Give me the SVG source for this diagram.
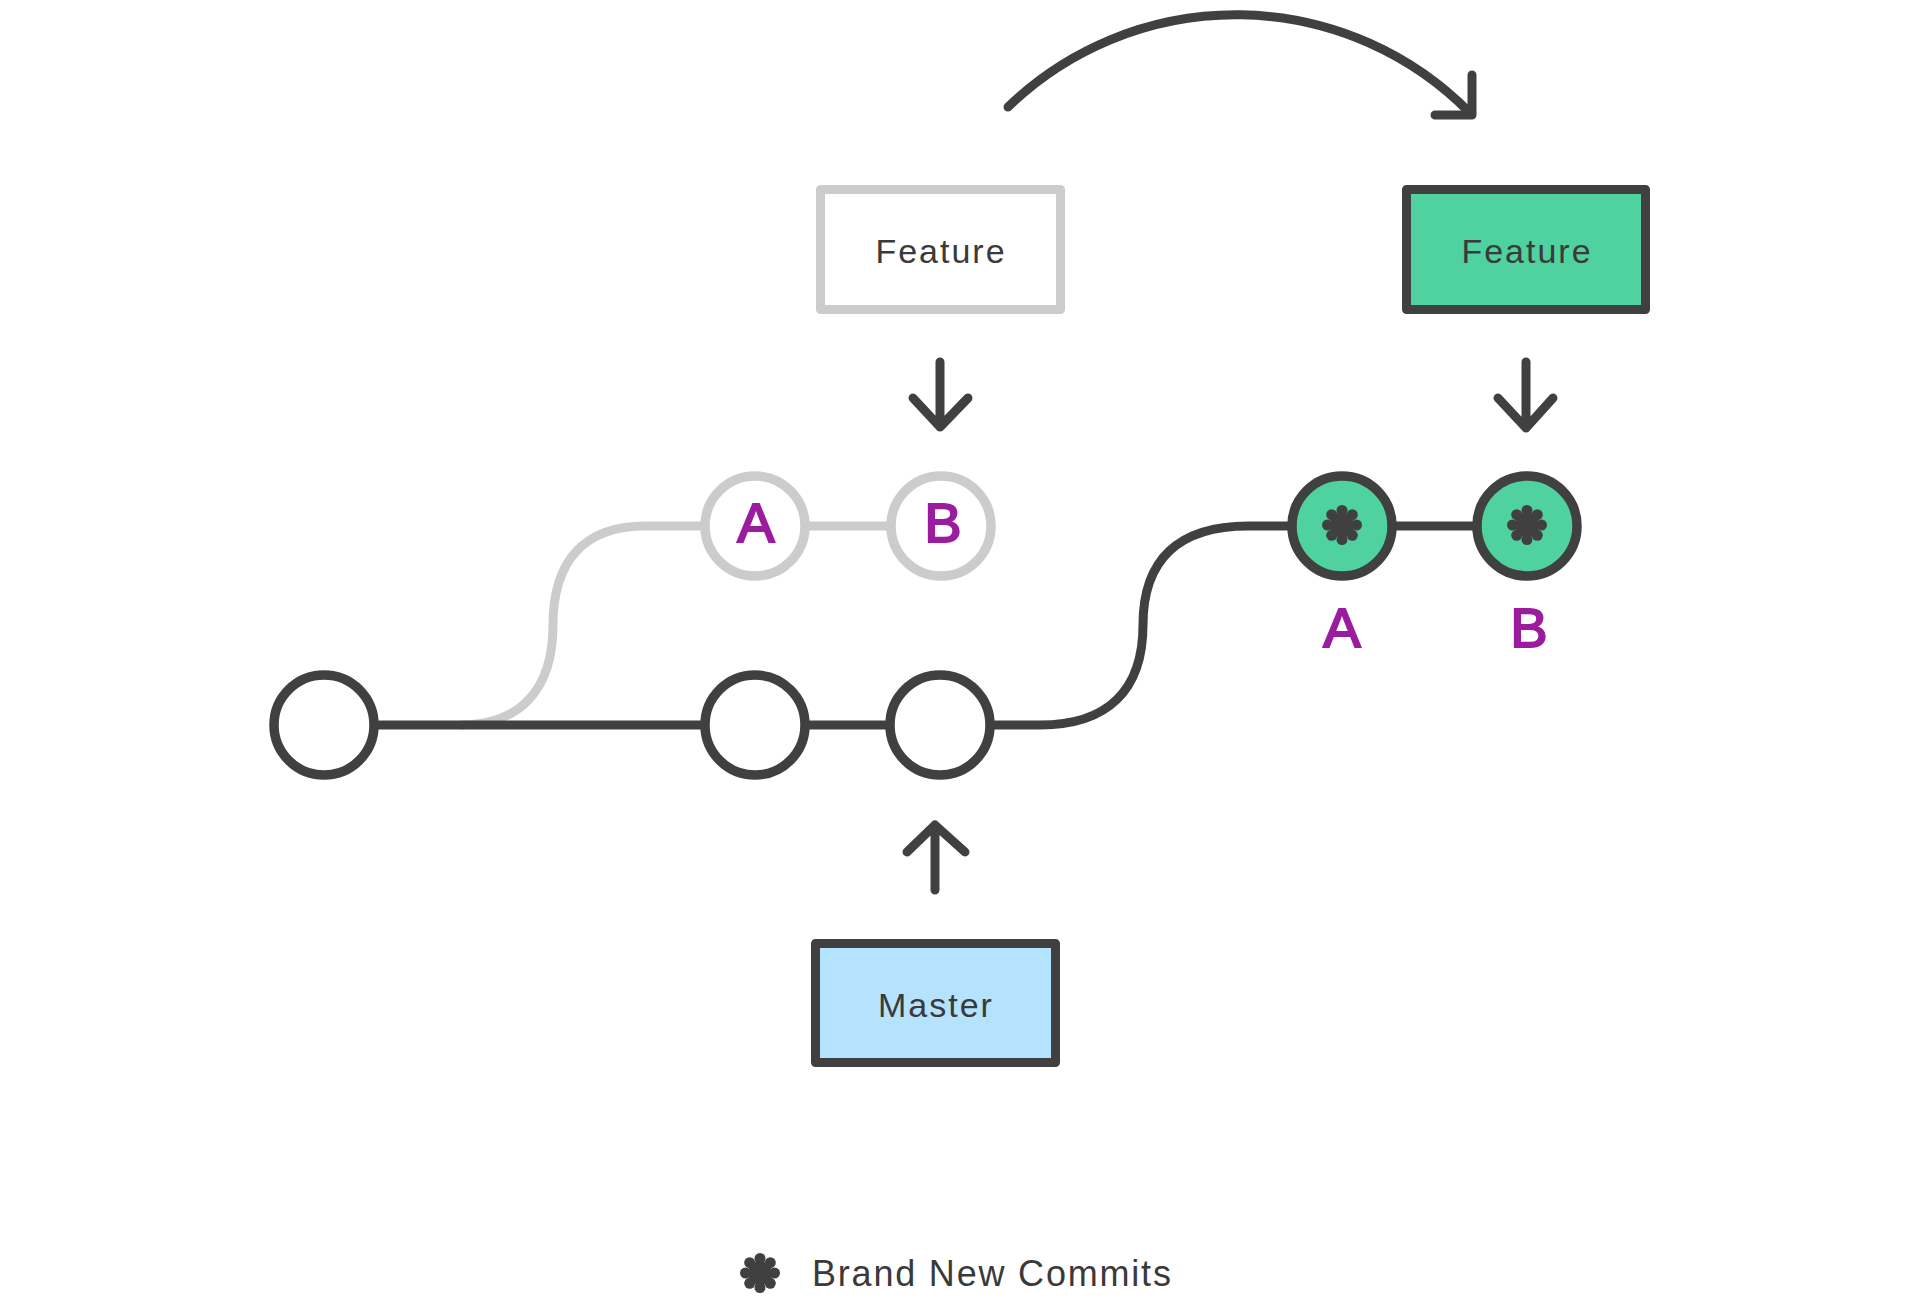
<svg xmlns="http://www.w3.org/2000/svg" xmlns:xlink="http://www.w3.org/1999/xlink" width="1920" height="1306" viewBox="0 0 1920 1306">
<style>
.dark{stroke:#404040;fill:none;stroke-width:9;stroke-linecap:round;stroke-linejoin:round}
.ghost{stroke:#cccccc;fill:none;stroke-width:9}
.arrow{stroke:#404040;fill:none;stroke-width:9;stroke-linecap:round;stroke-linejoin:round}
.commit{fill:#ffffff;stroke:#404040;stroke-width:9.5}
.gcommit{fill:#ffffff;stroke:#cccccc;stroke-width:9.5}
.ncommit{fill:#4fd1a0;stroke:#404040;stroke-width:9.5}
.box{stroke-width:9;stroke-linejoin:round}
.lbl{font-family:"Liberation Sans",Arial,sans-serif;font-size:34px;letter-spacing:2px;fill:#3a3a3a;text-anchor:middle}
.cl{font-family:"Liberation Sans",Arial,sans-serif;font-size:56px;fill:#9b1c9f;stroke:#9b1c9f;stroke-width:2;text-anchor:middle}
</style>
<defs>
<g id="star" fill="#404040">
<circle cx="0" cy="0" r="12"/>
<circle cx="0" cy="-14.5" r="5.5"/>
<circle cx="10.3" cy="-10.3" r="5.5"/>
<circle cx="14.5" cy="0" r="5.5"/>
<circle cx="10.3" cy="10.3" r="5.5"/>
<circle cx="0" cy="14.5" r="5.5"/>
<circle cx="-10.3" cy="10.3" r="5.5"/>
<circle cx="-14.5" cy="0" r="5.5"/>
<circle cx="-10.3" cy="-10.3" r="5.5"/>
</g>
</defs>
<rect width="1920" height="1306" fill="#ffffff"/>
<g id="connectors">
<path class="ghost" d="M460,725 C520,725 553,690 553,625 C553,560 585,526 645,526 H940"/>
<path class="dark" d="M326,725 H1040 C1108,725 1143,690 1143,625 C1143,560 1178,526 1248,526 H1527"/>
<path class="arrow" d="M1008,107 A328,328 0 0,1 1470,113"/>
<path class="arrow" d="M1472,75 V115 H1435"/>
<path class="arrow" d="M940,362 V427 M913,398 L940,427 L968,398"/>
<path class="arrow" d="M1526,362 V428 M1498,398 L1526,428 L1553,398"/>
<path class="arrow" d="M935,890 V825 M907,852 L935,825 L965,852"/>
</g>
<g id="commit1"><circle class="commit" cx="324" cy="725" r="50"/></g>
<g id="commit2"><circle class="commit" cx="755" cy="725" r="50"/></g>
<g id="commit3"><circle class="commit" cx="940" cy="725" r="50"/></g>
<g id="ghostA"><circle class="gcommit" cx="755" cy="526" r="50"/><text class="cl" x="756" y="542">A</text></g>
<g id="ghostB"><circle class="gcommit" cx="941" cy="526" r="50"/><text class="cl" x="943" y="542">B</text></g>
<g id="newA"><circle class="ncommit" cx="1342" cy="526" r="50"/><use xlink:href="#star" x="1342" y="525"/><text class="cl" x="1342" y="647">A</text></g>
<g id="newB"><circle class="ncommit" cx="1527" cy="526" r="50"/><use xlink:href="#star" x="1527" y="525"/><text class="cl" x="1529" y="647">B</text></g>
<g id="featureOld"><rect class="box" x="820.5" y="189.5" width="240" height="120" fill="#ffffff" stroke="#cccccc"/><text class="lbl" x="941" y="263">Feature</text></g>
<g id="featureNew"><rect class="box" x="1406.5" y="189.5" width="239" height="120" fill="#4fd1a0" stroke="#404040"/><text class="lbl" x="1527" y="263">Feature</text></g>
<g id="master"><rect class="box" x="815.5" y="943.5" width="240" height="119" fill="#b5e2fc" stroke="#404040"/><text class="lbl" x="936" y="1017">Master</text></g>
<g id="legend"><use xlink:href="#star" x="760" y="1273"/><text x="812" y="1286" font-family="Liberation Sans, Arial, sans-serif" font-size="36" letter-spacing="1.8" fill="#3a3a3a">Brand New Commits</text></g>
</svg>
